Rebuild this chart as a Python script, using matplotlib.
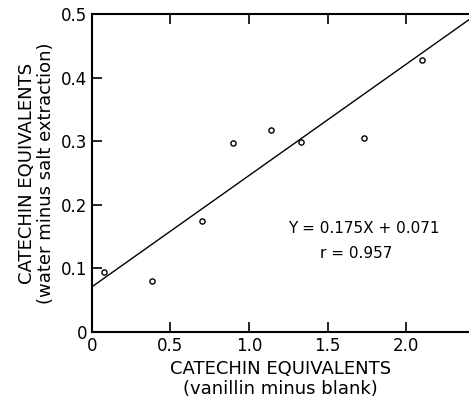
import numpy as np
from matplotlib import pyplot as plt

# точки
vanillin = [0.08, 0.38, 0.70, 0.90, 1.14, 1.33, 1.73, 2.10]
water_salt = [0.095, 0.080, 0.175, 0.297, 0.318, 0.299, 0.305, 0.428]
slope, intercept = 0.175, 0.071
x_ticks = [0, 0.5, 1.0, 1.5, 2.0]
x_labels = ['0', '0.5', '1.0', '1.5', '2.0']
y_ticks = [0, 0.1, 0.2, 0.3, 0.4, 0.5]
y_labels = ['0', '0.1', '0.2', '0.3', '0.4', '0.5']

plt.rcParams['font.family'] = ['DejaVu Sans']
fig = plt.figure(figsize=(4.69, 3.99), dpi=100)
ax = fig.add_axes([0.196, 0.168, 0.804, 0.797])

ax.scatter(vanillin, water_salt, s=14, facecolors='white', edgecolors='black', linewidths=1.0, zorder=3)
xx = np.linspace(0, 2.45, 50)
ax.plot(xx, slope * xx + intercept, color='black', linewidth=1.0)

ax.set_xlim(0, 2.4)
ax.set_ylim(0, 0.5)
ax.set_xticks(x_ticks)
ax.set_xticklabels(x_labels)
ax.set_yticks(y_ticks)
ax.set_yticklabels(y_labels)
ax.tick_params(direction='in', length=7, width=1.2, labelsize=12, top=True, right=False)
ax.spines['right'].set_visible(False)
for s in ['left', 'bottom', 'top']:
    ax.spines[s].set_linewidth(1.5)

# подпись уравнения регрессии
ax.text(1.25, 0.163, 'Y = 0.175X + 0.071', fontsize=11, va='center')
ax.text(1.45, 0.124, 'r = 0.957', fontsize=11, va='center')

ax.set_xlabel('CATECHIN EQUIVALENTS\n(vanillin minus blank)', fontsize=13, linespacing=1.1)
ax.set_ylabel('CATECHIN EQUIVALENTS\n(water minus salt extraction)', fontsize=13, linespacing=1.1)

fig.savefig('out.png', dpi=100)
